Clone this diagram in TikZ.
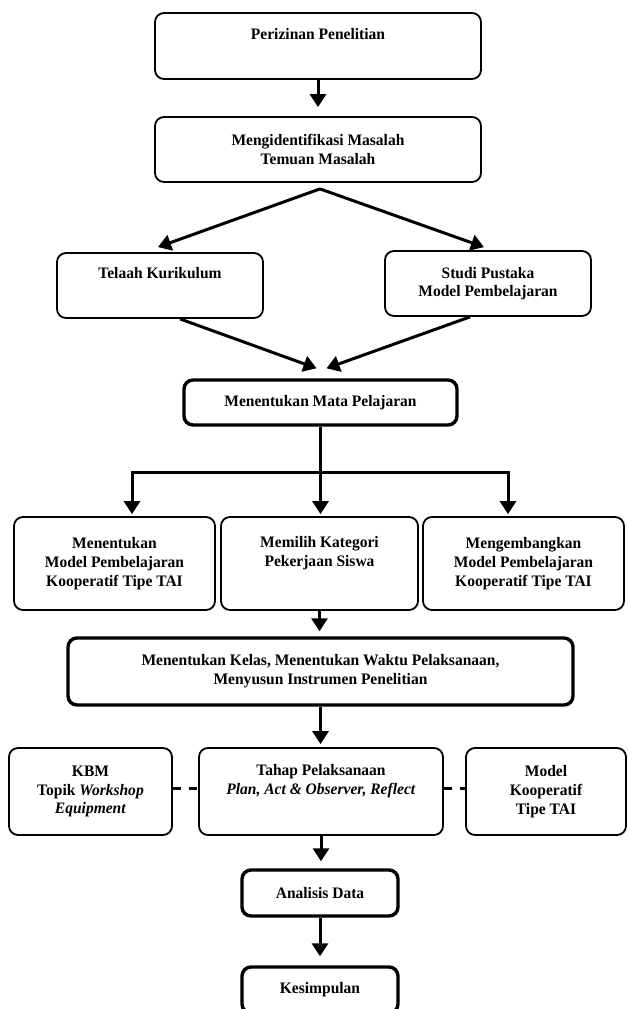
\documentclass[tikz,border=0pt]{standalone}
\usepackage{fontspec}
\setmainfont{Liberation Serif}[FakeStretch=0.97]
\usetikzlibrary{arrows.meta,calc}
\definecolor{ChartInk}{RGB}{0,0,0}

\begin{document}
\begin{tikzpicture}[
  x=1pt, y=-1pt,
  every node/.style={font=\fontsize{16}{18.7}\selectfont\bfseries, text=ChartInk, align=center},
  stagebox/.style={draw=ChartInk, line width=1.8pt, rounded corners=9pt, fill=white, inner sep=0pt},
  keybox/.style={stagebox, line width=3.4pt},
  flow/.style={draw=ChartInk, line width=3pt, -{Triangle[length=13pt,width=16pt]}},
  link/.style={draw=ChartInk, line width=3pt, dash pattern=on 8pt off 8pt}
]
\clip (0,0) rectangle (628,1009);

% persiapan
\node[stagebox, minimum width=326pt, minimum height=66pt] (izin) at (318,46)
  {Perizinan Penelitian\\\strut};
\node[stagebox, minimum width=326pt, minimum height=65pt] (ident) at (318,149.5)
  {Mengidentifikasi Masalah\\Temuan Masalah};
\node[stagebox, minimum width=206pt, minimum height=65pt] (telaah) at (160,285.5)
  {Telaah Kurikulum\\\strut};
\node[stagebox, minimum width=206pt, minimum height=65pt] (studi) at (488,283.5)
  {Studi Pustaka\\Model Pembelajaran};
\node[keybox, minimum width=273pt, minimum height=45pt] (mapel) at (320.5,402.5)
  {Menentukan Mata Pelajaran};

% perencanaan
\node[stagebox, minimum width=201pt, minimum height=93pt] (modeltai) at (114.5,563.5)
  {Menentukan\\Model Pembelajaran\\Kooperatif Tipe TAI};
\node[stagebox, minimum width=197pt, minimum height=93pt] (kategori) at (319.5,563.5)
  {Memilih Kategori\\Pekerjaan Siswa\\\strut};
\node[stagebox, minimum width=201pt, minimum height=93pt] (devtai) at (523.5,563.5)
  {Mengembangkan\\Model Pembelajaran\\Kooperatif Tipe TAI};
\node[keybox, minimum width=505pt, minimum height=67pt] (kelas) at (320.5,671.5)
  {Menentukan Kelas, Menentukan Waktu Pelaksanaan,\\Menyusun Instrumen Penelitian};

% pelaksanaan
\node[stagebox, minimum width=163pt, minimum height=87pt] (kbm) at (90.5,791.5)
  {KBM\\Topik \textit{Workshop}\\\textit{Equipment}};
\node[stagebox, minimum width=244pt, minimum height=87pt] (tahap) at (321,791.5)
  {Tahap Pelaksanaan\\\textit{Plan, Act \& Observer, Reflect}\\\strut};
\node[stagebox, minimum width=160pt, minimum height=87pt] (koop) at (546,791.5)
  {Model\\Kooperatif\\Tipe TAI};
\node[keybox, minimum width=156pt, minimum height=46pt] (analisis) at (320,893)
  {Analisis Data};
\node[keybox, minimum width=156pt, minimum height=46pt] (simpul) at (320,990)
  {Kesimpulan};

% alur
\draw[flow, shorten >=9pt] (izin) -- (ident);
\draw[flow] ($(ident.south)+(2,6)$) -- ($(telaah.north)+(-2,-5)$);
\draw[flow] ($(ident.south)+(2,6)$) -- ($(studi.north)+(-4,-3)$);
\draw[flow] ($(telaah.south)+(20,0)$) -- ($(mapel.north)+(-4,-10)$);
\draw[flow] ($(studi.south)+(-18,0)$) -- ($(mapel.north)+(6,-10)$);
\coordinate (split) at ($(mapel.south)+(0,46)$);
\draw[flow, shorten >=2pt] (mapel.south) -- (mapel.south |- kategori.north);
\draw[flow, shorten >=2pt] (split) -| ($(modeltai.north)+(17.5,0)$);
\draw[flow, shorten >=2pt] (split) -| ($(devtai.north)+(-15.5,0)$);
\draw[flow, shorten >=5pt] (kategori.south) -- (kategori.south |- kelas.north);
\draw[flow, shorten >=3pt] (kelas.south) -- (kelas.south |- tahap.north);
\draw[flow, shorten >=7pt] (tahap.south) -- (tahap.south |- analisis.north);
\draw[flow, shorten >=9pt] (analisis) -- (simpul);
\draw[link] ($(kbm.east)+(0,-3)$) -- ($(tahap.west)+(0,-3)$);
\draw[link] ($(tahap.east)+(0,-3)$) -- ($(koop.west)+(0,-3)$);
\end{tikzpicture}
\end{document}
